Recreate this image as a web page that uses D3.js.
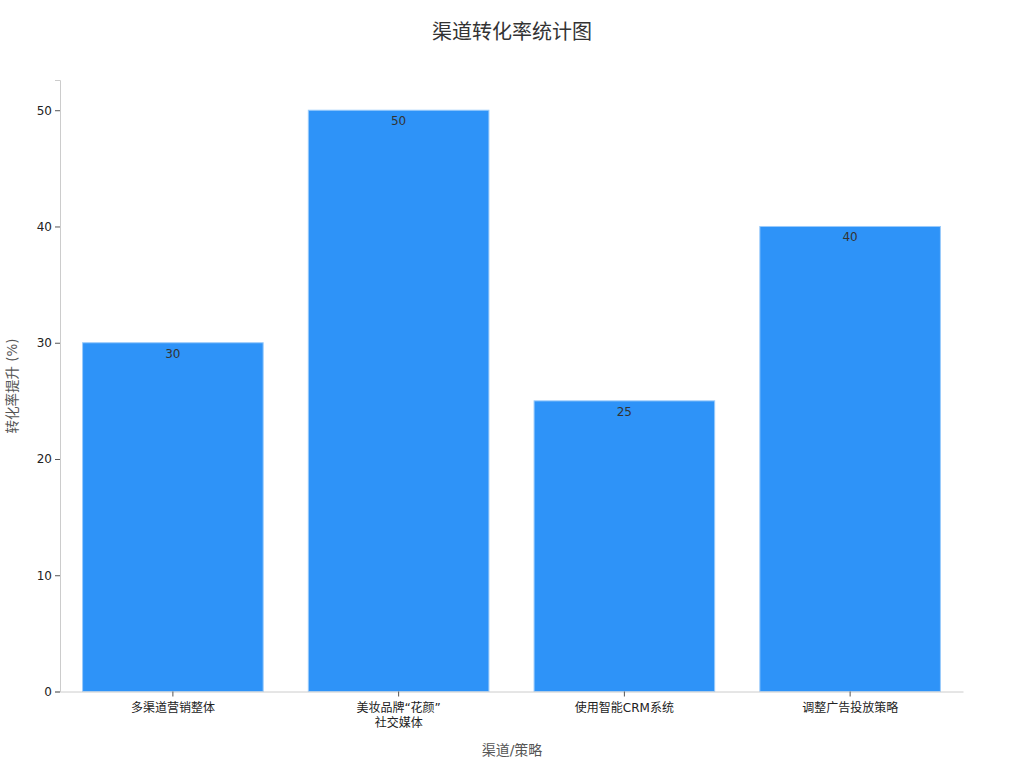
<!DOCTYPE html>
<html>
<head>
<meta charset="utf-8">
<script src="https://cdn.jsdelivr.net/npm/d3@7"></script>
<style>
  body { margin: 0; background: #fff; }
  svg text { font-family: "DejaVu Sans", "Noto Sans CJK SC", sans-serif; }
</style>
</head>
<body>
<svg id="chart" width="1024" height="768"></svg>
<script>
const categories = ["多渠道营销整体", "美妆品牌“花颜”\n社交媒体", "使用智能CRM系统", "调整广告投放策略"];
const values = [30, 50, 25, 40];
const yTicks = [0, 10, 20, 30, 40, 50];
const title = "渠道转化率统计图";
const xTitle = "渠道/策略";
const yTitle = "转化率提升 (%)";

const svg = d3.select("#chart");
const mLeft = 60, mRight = 963, mTop = 80, mBottom = 691.5;

const x = d3.scaleBand().domain(categories).range([mLeft, mRight]).paddingInner(0.2).paddingOuter(0.1);
const y = d3.scaleLinear().domain([0, 52.6]).range([mBottom, mTop]);

// bars
svg.append("g").selectAll("rect").data(values).join("rect")
  .attr("x", (d, i) => x(categories[i]))
  .attr("y", d => y(d))
  .attr("width", x.bandwidth())
  .attr("height", d => y(0) - y(d))
  .attr("fill", "#2e93f8")
  .attr("stroke", "#9acbfb")
  .attr("stroke-width", 1);

// bar labels
svg.append("g").selectAll("text").data(values).join("text")
  .attr("x", (d, i) => x(categories[i]) + x.bandwidth() / 2)
  .attr("y", d => y(d) + 15)
  .attr("text-anchor", "middle")
  .attr("font-size", 12)
  .attr("fill", "#333")
  .text(d => d);

// y axis
const yAxis = svg.append("g").attr("transform", `translate(${mLeft},0)`)
  .call(d3.axisLeft(y).tickValues(yTicks).tickSize(5).tickPadding(3));
yAxis.select(".domain").attr("stroke", "#cccccc");
yAxis.selectAll(".tick line").attr("stroke", "#555");
yAxis.selectAll(".tick text").attr("font-size", 12).attr("fill", "#222")
  .style("font-family", '"DejaVu Sans", "Noto Sans CJK SC", sans-serif');

// x axis
const xAxis = svg.append("g").attr("transform", `translate(0,${mBottom})`)
  .call(d3.axisBottom(x).tickSize(5).tickSizeOuter(0).tickPadding(5));
xAxis.select(".domain").attr("stroke", "#cccccc");
xAxis.selectAll(".tick line").attr("stroke", "#555");
xAxis.selectAll(".tick text").each(function(d) {
  const t = d3.select(this);
  const lines = d.split("\n");
  t.text(null).attr("font-size", 12).attr("fill", "#222")
   .style("font-family", '"DejaVu Sans", "Noto Sans CJK SC", sans-serif');
  lines.forEach((ln, i) => {
    t.append("tspan").attr("x", 0).attr("dy", i === 0 ? "0.85em" : "1.3em").text(ln);
  });
});

// title
svg.append("text").attr("x", 512).attr("y", 39).attr("text-anchor", "middle")
  .attr("font-size", 20).attr("fill", "#333").text(title);

// x axis title
svg.append("text").attr("x", 512).attr("y", 755).attr("text-anchor", "middle")
  .attr("font-size", 14).attr("fill", "#555").text(xTitle);

// y axis title
svg.append("text").attr("transform", `translate(17,386) rotate(-90)`)
  .attr("text-anchor", "middle")
  .attr("font-size", 13.5).attr("fill", "#555").text(yTitle);
</script>
</body>
</html>
